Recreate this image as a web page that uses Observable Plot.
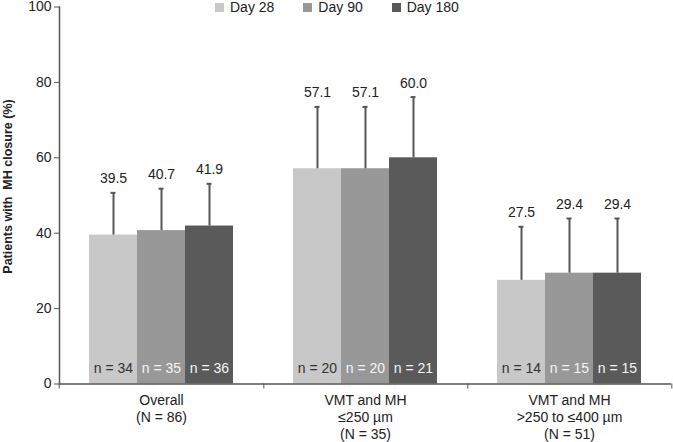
<!DOCTYPE html>
<html><head><meta charset="utf-8">
<script src="https://cdn.jsdelivr.net/npm/d3@7"></script>
<script src="https://cdn.jsdelivr.net/npm/@observablehq/plot@0.6"></script>
<style>
body{margin:0;background:#fff;font-family:"Liberation Sans",Arial,sans-serif;}
#wrap{position:relative;width:673px;height:442px;}
#legend{position:absolute;top:0;left:215px;display:flex;font-size:14px;line-height:15px;color:#222;}
.item{display:flex;align-items:center;margin-right:29px;}
.sw{width:9px;height:9px;margin-right:6px;}
svg{overflow:visible;}
g[aria-label="y-axis label"] text{font-weight:bold;font-size:12.5px;}
</style></head>
<body><div id="wrap"><div id="legend"></div></div>
<script>
const groups = ["Overall\n(N = 86)", "VMT and MH\n≤250 µm\n(N = 35)", "VMT and MH\n>250 to ≤400 µm\n(N = 51)"];
const days = ["Day 28", "Day 90", "Day 180"];
const day28Values = [39.5, 57.1, 27.5];
const day90Values = [40.7, 57.1, 29.4];
const day180Values = [41.9, 60.0, 29.4];
const day28Upper = [50.7, 73.5, 41.7];
const day90Upper = [51.8, 73.5, 43.9];
const day180Upper = [53.1, 76.1, 43.9];
const day28N = [34, 20, 14];
const day90N = [35, 20, 15];
const day180N = [36, 21, 15];
const yTicks = [0, 20, 40, 60, 80, 100];
const yLabel = "Patients with\u00a0 MH closure (%)";

const colors = ["#c8c8c8", "#989898", "#5a5a5a"];
const valuesByDay = [day28Values, day90Values, day180Values];
const upperByDay = [day28Upper, day90Upper, day180Upper];
const nByDay = [day28N, day90N, day180N];

const data = [];
groups.forEach((g, i) => days.forEach((d, j) => data.push({
  group: g, day: d, value: valuesByDay[j][i], upper: upperByDay[j][i], n: nByDay[j][i]
})));

const W = 673, H = 442, ML = 58, MR = 1;
const half = (W - ML - MR) / groups.length / 2;
const axisColor = "#555";

const chart = Plot.plot({
  width: W, height: H,
  marginLeft: ML, marginRight: MR, marginTop: 6.5, marginBottom: 58.5,
  style: {fontFamily: '"Liberation Sans", Arial, sans-serif', fontSize: "14px", color: "#222", background: "#fff"},
  fx: {domain: groups, padding: 0, axis: null, label: null},
  x: {domain: days, paddingInner: 0, paddingOuter: 0.585, axis: null, label: null},
  y: {domain: [0, 100], axis: null},
  color: {domain: days, range: colors},
  marks: [
    Plot.barY(data, {fx: "group", x: "day", y: "value", fill: "day"}),
    Plot.ruleX(data, {fx: "group", x: "day", y1: "value", y2: "upper", stroke: axisColor, strokeWidth: 2}),
    Plot.tickY(data, {fx: "group", x: "day", y: "upper", stroke: axisColor, strokeWidth: 2, insetLeft: 21.5, insetRight: 21.5}),
    Plot.text(data, {fx: "group", x: "day", y: "upper", text: d => d.value.toFixed(1), dy: -14, fill: "#222", fontSize: 14}),
    Plot.text(data, {fx: "group", x: "day", y: 0, text: d => `n = ${d.n}`, dy: -15, fontSize: 14,
      fill: d => d.day === days[0] ? "#333" : "#f4f4f4"}),
    Plot.ruleY([0], {stroke: axisColor, strokeWidth: 1.5}),
    Plot.frame({anchor: "left", facetAnchor: "left", stroke: axisColor, strokeWidth: 1.5}),
    Plot.axisY({ticks: yTicks, tickSize: 5, tickPadding: 3, stroke: axisColor, fontSize: 14, color: "#222",
      label: yLabel, labelAnchor: "center", labelOffset: 56, labelArrow: "none"}),
    Plot.axisFx({anchor: "bottom", tickSize: 5, tickFormat: () => "", dx: half, stroke: axisColor, label: null}),
    Plot.axisFx({anchor: "bottom", ticks: [groups[0]], tickSize: 5, tickFormat: () => "", dx: -half, stroke: axisColor, label: null}),
    Plot.axisFx({anchor: "bottom", tickSize: 0, tickPadding: 9, fontSize: 14, lineHeight: 1.2, fill: "#222", label: null})
  ]
});
document.getElementById("wrap").appendChild(chart);

// nudge the y-axis title upward to match the reference placement
const lbl = chart.querySelector('g[aria-label="y-axis label"]');
if (lbl) {
  const old = lbl.getAttribute("transform") || "";
  lbl.setAttribute("transform", (old + " translate(0,-9)").trim());
}

const legend = document.getElementById("legend");
days.forEach((d, i) => {
  const item = document.createElement("div");
  item.className = "item";
  const sw = document.createElement("span");
  sw.className = "sw";
  sw.style.background = colors[i];
  const t = document.createElement("span");
  t.textContent = d;
  item.appendChild(sw); item.appendChild(t);
  legend.appendChild(item);
});
</script>
</body></html>
